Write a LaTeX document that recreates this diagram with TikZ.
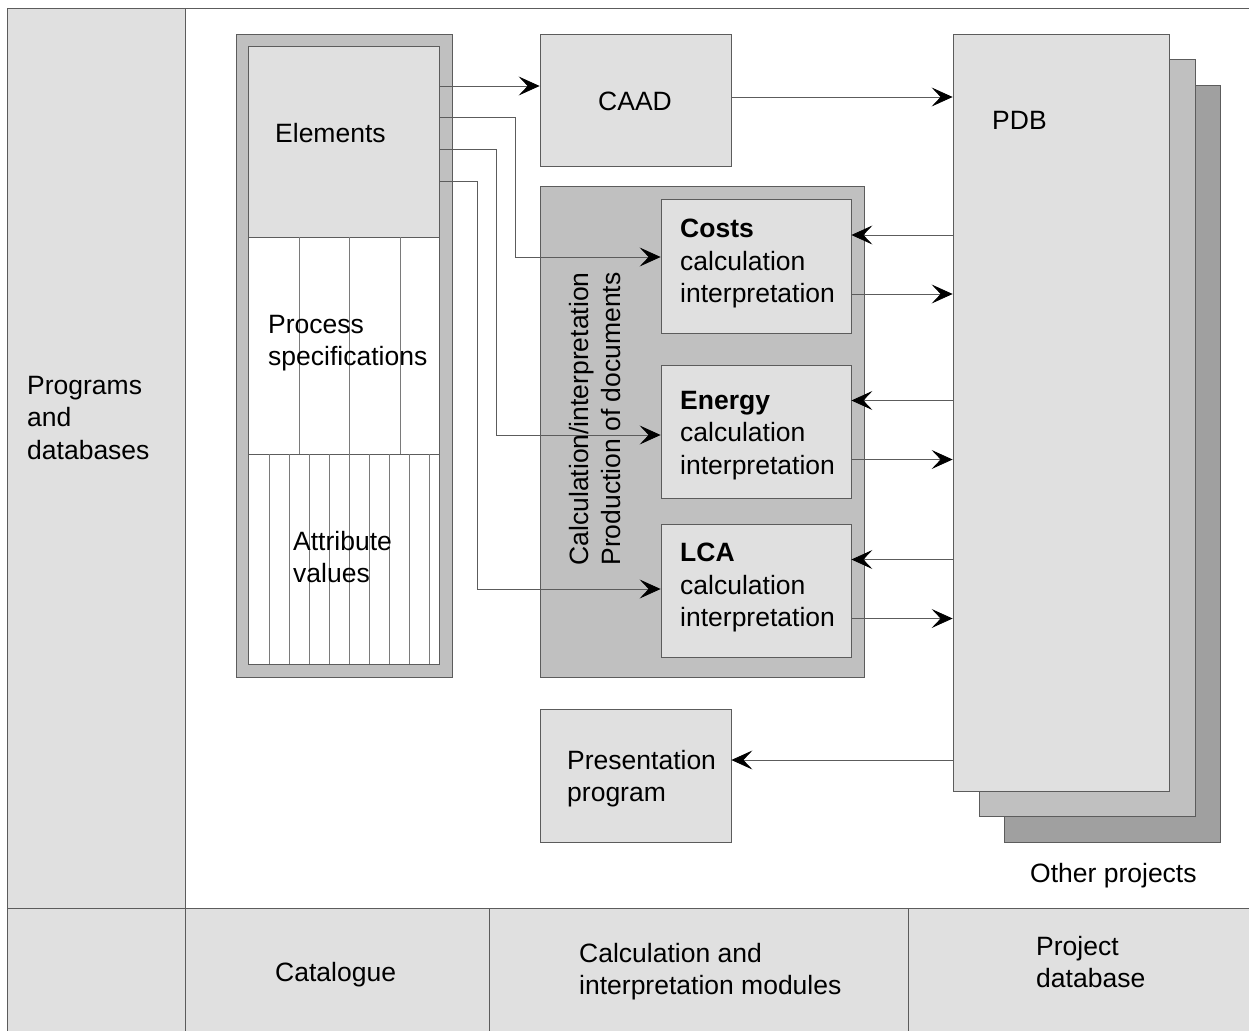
\documentclass[tikz,border=0pt]{standalone}
\usepackage{fontspec}
\setmainfont{Liberation Sans}
\usetikzlibrary{arrows.meta,positioning}
\definecolor{paleg}{HTML}{E0E0E0}
\definecolor{midg}{HTML}{C0C0C0}
\definecolor{darkg}{HTML}{A0A0A0}
\definecolor{lineg}{HTML}{5C5C5C}
\definecolor{thing}{HTML}{7A7A7A}

\begin{document}
\begin{tikzpicture}[x=1pt,y=-1pt]
\tikzset{cell/.style = {shape=rectangle, draw=lineg, line width=0.8pt, inner sep=0pt}}
\tikzset{module/.style = {cell, fill=paleg}}
\tikzset{holder/.style = {cell, fill=midg}}
\tikzset{lbl/.style = {font=\fontsize{26.5}{32.5}\selectfont, align=left, inner sep=0pt, anchor=north west}}
\tikzset{divider/.style = {draw=thing, line width=0.7pt}}
\tikzset{edge/.style = {draw=lineg, line width=0.8pt}}
\tikzset{flow/.style = {edge, -{Stealth[length=21pt, width=19pt, inset=9pt, color=black]}}}
\useasboundingbox (0,0) rectangle (1249,1030);

% frame of the table
\node[module, minimum width=178pt, minimum height=900pt] (progcol) at (96,458) {};
\node[cell, minimum width=1067pt, minimum height=900pt] (workarea) at (718.5,458) {};
\node[module, minimum width=178pt, minimum height=126pt] (corner) at (96,971) {};
\node[module, minimum width=304pt, minimum height=126pt] (catcell) at (337,971) {};
\node[module, minimum width=419pt, minimum height=126pt] (modcell) at (698.5,971) {};
\node[module, minimum width=344pt, minimum height=126pt] (pdbcell) at (1080,971) {};

% catalogue
\node[holder, minimum width=216pt, minimum height=643pt] (catalogue) at (344,355.5) {};
\node[module, minimum width=191pt, minimum height=191pt] (elements) at (343.5,141.5) {};
\node[cell, fill=white, minimum width=191pt, minimum height=217pt] (procspec) at (343.5,345.5) {};
\node[cell, fill=white, minimum width=191pt, minimum height=210pt] (attrval) at (343.5,559) {};
\foreach \x in {299,349,400}
  \draw[divider] (\x,237) -- (\x,454);
\foreach \x in {269,289,...,429}
  \draw[divider] (\x,454) -- (\x,664);

% modules
\node[module, minimum width=191pt, minimum height=132pt] (caad) at (635.5,100) {};
\node[holder, minimum width=324pt, minimum height=491pt] (calcmod) at (702,431.5) {};
\node[module, minimum width=190pt, minimum height=134pt] (costs) at (756,266) {};
\node[module, minimum width=190pt, minimum height=133pt] (energy) at (756,431.5) {};
\node[module, minimum width=190pt, minimum height=133pt] (lca) at (756,590.5) {};
\node[module, minimum width=191pt, minimum height=133pt] (present) at (635.5,775.5) {};

% project database
\node[cell, fill=darkg, minimum width=216pt, minimum height=757pt] (pdbthree) at (1112,463.5) {};
\node[holder, minimum width=216pt, minimum height=757pt] (pdbtwo) at (1087,437.5) {};
\node[module, minimum width=216pt, minimum height=757pt] (pdb) at (1061,412.5) {};

% texts
\node[lbl] (progtxt) at (27,376) {Programs\\and\\databases};
\node[lbl] (elemtxt) at (275,123) {Elements};
\node[lbl] (proctxt) at (268,315) {Process\\specifications};
\node[lbl] (attrtxt) at (293,531) {Attribute\\values};
\node[lbl] (caadtxt) at (598,92) {CAAD};
\node[lbl, anchor=center, rotate=90] (calctxt) at (595,419) {Calculation/interpretation\\Production of documents};
\node[lbl] (coststxt) at (680,219) {\bfseries Costs\\calculation\\interpretation};
\node[lbl] (energytxt) at (680,391) {\bfseries Energy\\calculation\\interpretation};
\node[lbl] (lcatxt) at (680,543) {\bfseries LCA\\calculation\\interpretation};
\node[lbl] (prestxt) at (567,750) {Presentation\\program};
\node[lbl] (pdbtxt) at (992,111) {PDB};
\node[lbl] (othertxt) at (1030,863) {Other projects};
\node[lbl] (cattxt) at (275,962) {Catalogue};
\node[lbl] (modtxt) at (579,943) {Calculation and\\interpretation modules};
\node[lbl] (pdbcelltxt) at (1036,936) {Project\\database};

% connectors
\draw[flow] ([yshift=55.5pt]elements.east) -- ([yshift=14pt]caad.west);
\draw[flow] ([yshift=24.5pt]elements.east) -- ++(76,0) |- ([yshift=9pt]costs.west);
\draw[flow] ([yshift=-7.5pt]elements.east) -- ++(57,0) |- ([yshift=-3.5pt]energy.west);
\draw[flow] ([yshift=-39.5pt]elements.east) -- ++(38,0) |- ([yshift=1.5pt]lca.west);
\coordinate (caadout) at ([yshift=3pt]caad.east);
\draw[flow] (caadout) -- (caadout -| pdb.west);
\foreach \m in {costs,energy,lca}{
  \coordinate (\m-in) at ([yshift=31pt]\m.east);
  \coordinate (\m-out) at ([yshift=-28pt]\m.east);
  \draw[flow] (\m-in -| pdb.west) -- (\m-in);
  \draw[flow] (\m-out) -- (\m-out -| pdb.west);
}
\coordinate (presin) at ([yshift=15.5pt]present.east);
\draw[flow] (presin -| pdb.west) -- (presin);
\end{tikzpicture}
\end{document}
